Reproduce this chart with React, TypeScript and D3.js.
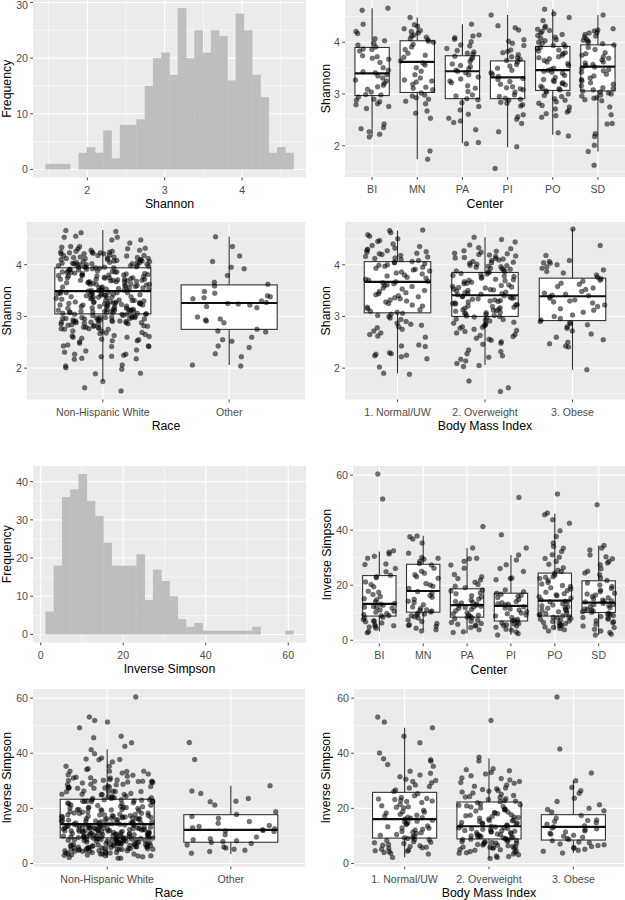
import React from "react";
import * as d3 from "d3";

// ---------------- DATA ----------------
// Histogram: Shannon
const shannonBinMin = 1.458;
const shannonBinWidth = 0.1069;
const shannonCounts = [1, 1, 1, 0, 3, 4, 3, 7, 2, 8, 8, 9, 15, 20, 21, 17, 29, 20, 25, 21, 25, 24, 16, 28, 25, 17, 13, 3, 4, 3];
// Histogram: Inverse Simpson
const invBinMin = 1.14;
const invBinWidth = 2.005;
const invCounts = [6, 18, 36, 38, 42, 35, 31, 24, 18, 18, 18, 21, 9, 17, 14, 10, 4, 2, 3, 1, 1, 1, 1, 1, 1, 2, 0, 0, 0, 1];

const centers = ["BI", "MN", "PA", "PI", "PO", "SD"];
const races = ["Non-Hispanic White", "Other"];
const bmiGroups = ["1. Normal/UW", "2. Overweight", "3. Obese"];

// Shannon by center (jittered points)
const shannonBI = [4.66,4.62,4.35,4.21,4.17,4.07,4.03,3.98,3.95,3.91,3.87,3.86,3.83,3.74,3.72,3.69,3.67,3.61,3.51,3.46,3.43,3.41,3.37,3.35,3.31,3.27,3.25,3.21,3.17,3.14,3.09,3.04,2.99,2.98,2.94,2.90,2.88,2.85,2.81,2.79,2.76,2.72,2.42,2.35,2.33,2.27,2.22,2.17];
const shannonMN = [4.48,4.34,4.31,4.26,4.23,4.21,4.18,4.14,4.12,4.10,4.07,4.05,4.02,4.00,3.96,3.91,3.86,3.79,3.75,3.71,3.64,3.60,3.56,3.51,3.44,3.37,3.31,3.27,3.25,3.23,3.19,3.13,3.11,3.08,3.02,2.98,2.96,2.93,2.90,2.86,2.81,2.67,2.63,2.53,1.90,1.74];
const shannonPA = [4.35,4.14,4.12,4.09,4.06,4.01,3.95,3.93,3.88,3.84,3.81,3.79,3.77,3.73,3.70,3.67,3.63,3.58,3.55,3.53,3.49,3.46,3.44,3.41,3.37,3.33,3.29,3.25,3.22,3.16,3.11,3.05,2.98,2.96,2.91,2.89,2.83,2.76,2.69,2.61,2.53,2.48,2.45,2.31,2.06,2.04];
const shannonPI = [4.53,4.32,4.28,4.24,4.05,4.02,3.98,3.94,3.85,3.82,3.80,3.76,3.72,3.70,3.67,3.65,3.62,3.57,3.54,3.50,3.46,3.41,3.38,3.34,3.30,3.28,3.24,3.19,3.14,3.12,3.10,3.08,3.04,2.98,2.95,2.92,2.90,2.88,2.84,2.82,2.79,2.77,2.60,2.56,2.51,2.43,2.27,1.98,1.56];
const shannonPO = [4.64,4.55,4.48,4.42,4.31,4.28,4.25,4.23,4.21,4.18,4.15,4.13,4.10,4.08,4.05,4.03,4.00,3.98,3.96,3.94,3.92,3.90,3.88,3.85,3.83,3.80,3.78,3.75,3.72,3.70,3.68,3.65,3.62,3.59,3.55,3.50,3.48,3.46,3.44,3.42,3.40,3.36,3.32,3.28,3.26,3.24,3.22,3.20,3.18,3.15,3.12,3.10,3.08,3.06,3.04,3.00,2.97,2.95,2.91,2.88,2.85,2.82,2.78,2.75,2.71,2.68,2.65,2.62,2.58,2.55,2.25,2.19];
const shannonSD = [4.53,4.26,4.24,4.22,4.19,4.18,4.15,4.12,4.10,4.06,4.04,4.02,4.00,3.97,3.95,3.90,3.86,3.80,3.78,3.75,3.72,3.69,3.66,3.62,3.60,3.57,3.55,3.52,3.50,3.47,3.45,3.42,3.38,3.35,3.31,3.28,3.25,3.22,3.19,3.16,3.12,3.10,3.08,3.06,3.04,3.02,3.00,2.98,2.96,2.93,2.92,2.89,2.87,2.75,2.60,2.43,2.42,2.23,2.18,2.01,1.89,1.62];

// Shannon by race
const shannonOther = [4.54,4.35,4.17,4.06,3.95,3.92,3.79,3.66,3.62,3.59,3.48,3.45,3.40,3.38,3.36,3.34,3.30,3.27,3.25,3.24,3.22,3.19,3.17,2.99,2.95,2.93,2.91,2.88,2.75,2.72,2.70,2.60,2.55,2.52,2.43,2.40,2.28,2.22,2.06,2.04];

// Shannon by BMI
const shannonNormal = [4.67,4.66,4.62,4.58,4.55,4.50,4.47,4.45,4.40,4.37,4.35,4.32,4.30,4.28,4.27,4.25,4.24,4.22,4.21,4.20,4.18,4.16,4.15,4.13,4.12,4.10,4.08,4.06,4.05,4.04,4.02,4.00,3.99,3.97,3.95,3.93,3.91,3.90,3.88,3.86,3.84,3.82,3.80,3.78,3.76,3.74,3.72,3.70,3.68,3.67,3.65,3.63,3.61,3.60,3.58,3.55,3.53,3.50,3.48,3.46,3.44,3.42,3.40,3.38,3.36,3.34,3.32,3.30,3.28,3.25,3.22,3.20,3.18,3.15,3.13,3.10,3.08,3.06,3.04,3.02,3.00,2.97,2.94,2.90,2.87,2.85,2.83,2.80,2.78,2.75,2.72,2.68,2.65,2.62,2.60,2.45,2.43,2.42,2.30,2.28,2.27,2.25,2.24,2.22,2.18,2.02,1.90,1.88];
const shannonOverweight = [4.53,4.49,4.44,4.38,4.33,4.31,4.27,4.26,4.24,4.22,4.21,4.19,4.17,4.16,4.14,4.13,4.11,4.09,4.08,4.06,4.04,4.03,4.01,3.99,3.98,3.96,3.95,3.93,3.91,3.90,3.88,3.86,3.85,3.83,3.81,3.79,3.78,3.76,3.74,3.72,3.71,3.69,3.67,3.66,3.63,3.61,3.60,3.58,3.56,3.55,3.53,3.52,3.50,3.49,3.47,3.46,3.44,3.43,3.42,3.40,3.39,3.37,3.36,3.35,3.33,3.32,3.31,3.29,3.28,3.26,3.25,3.23,3.22,3.20,3.19,3.17,3.16,3.14,3.13,3.11,3.10,3.08,3.07,3.05,3.04,3.02,3.01,2.99,2.97,2.95,2.93,2.91,2.89,2.86,2.84,2.82,2.79,2.77,2.75,2.73,2.71,2.68,2.65,2.63,2.61,2.58,2.56,2.54,2.51,2.48,2.46,2.35,2.32,2.28,2.24,2.21,2.17,2.14,2.09,2.05,2.03,1.75,1.62,1.55,4.20,4.12,4.05,3.97,3.92,3.87,3.82,3.77,3.70,3.64,3.57,3.51,3.45,3.38,3.34,3.30,3.24,3.18,3.12,3.06,3.00,2.94,2.87,2.80];
const shannonObese = [4.69,4.37,4.18,4.08,4.06,4.04,4.03,4.00,3.96,3.93,3.90,3.87,3.84,3.80,3.76,3.73,3.70,3.68,3.64,3.62,3.58,3.55,3.52,3.48,3.45,3.43,3.41,3.40,3.38,3.35,3.32,3.30,3.28,3.26,3.22,3.19,3.15,3.12,3.08,3.03,3.00,2.96,2.93,2.90,2.88,2.86,2.84,2.80,2.77,2.72,2.66,2.60,2.55,2.50,2.47,2.43,2.41,1.97];

// Inverse Simpson by center
const invBI = [60.4,51.3,32.5,32.0,31.3,30.5,29.8,27.7,27.5,26.1,24.9,23.6,23.1,22.7,21.2,20.3,19.4,17.8,17.4,16.6,15.9,15.1,14.7,14.0,13.4,13.1,12.7,12.3,11.9,11.7,11.0,10.5,10.2,9.7,9.4,8.9,8.4,8.1,7.5,7.1,6.7,6.3,5.6,5.3,4.8,4.4,3.2,2.7,12.0,9.0,6.9,5.1];
const invMN = [37.9,37.6,36.8,35.3,31.6,30.1,29.8,29.4,28.7,27.9,27.3,26.2,25.1,24.3,23.8,23.1,22.5,20.6,20.1,19.6,18.8,17.7,17.1,16.3,15.6,14.9,14.2,13.7,12.9,12.1,11.5,11.1,10.6,10.3,9.8,9.2,8.9,8.5,8.1,7.4,6.8,6.1,5.6,5.1,4.4,3.8,3.4,10.9,9.5,5.4];
const invPA = [41.3,33.5,29.8,29.6,28.7,27.3,26.2,23.9,23.1,22.4,21.9,21.1,20.3,19.6,19.1,18.3,17.9,17.3,16.9,16.2,15.7,15.0,14.6,14.1,13.5,13.2,12.8,12.4,12.1,11.6,11.2,10.7,10.0,9.6,9.1,8.7,8.2,7.8,7.3,6.9,6.1,5.8,5.2,4.6,3.8,3.1,2.8,13.8,12.6,11.9,9.3,8.4,6.5,5.5];
const invPI = [51.9,38.3,33.5,31.0,29.2,27.4,26.1,25.0,22.6,22.4,22.0,18.3,17.6,17.1,16.7,16.0,15.5,14.8,14.1,13.6,13.1,12.8,12.2,11.7,11.0,10.4,9.9,9.2,8.8,8.3,7.6,7.1,6.8,6.3,5.9,5.6,5.2,4.7,4.0,3.6,3.0,2.4,1.9,16.3,13.3,11.4,9.6,7.3,6.1,5.4];
const invPO = [53.1,46.2,45.6,43.8,42.5,39.8,37.7,35.3,34.1,33.4,32.2,31.1,30.2,29.7,28.6,27.6,26.3,25.4,25.0,24.3,23.6,23.1,22.4,21.7,21.0,20.4,19.9,19.1,18.6,18.1,17.4,16.9,16.2,15.8,15.3,14.7,14.2,13.9,13.3,12.8,12.5,12.0,11.6,11.2,10.9,10.4,10.0,9.7,9.2,8.9,8.4,8.1,7.6,7.3,6.8,6.5,6.1,5.6,5.2,4.8,4.3,3.8,3.4,22.9,19.5,16.5,14.0,12.2,10.7,9.4,8.6,7.9,7.0,6.3,5.4,4.6];
const invSD = [49.2,34.4,33.5,32.8,31.0,30.3,29.6,28.6,28.1,27.4,26.0,25.1,24.4,23.8,22.6,21.7,20.8,20.1,19.5,18.8,18.2,17.6,17.1,16.4,15.9,15.4,15.0,14.6,14.2,13.9,13.4,13.0,12.6,12.3,11.8,11.4,11.0,10.6,10.2,9.8,9.5,9.0,8.6,8.1,7.6,7.1,6.4,5.8,5.2,4.6,4.0,3.4,2.8,2.2,1.9,16.8,14.4,12.9,11.2,10.4,9.2,8.3,6.7];

// Inverse Simpson by race
const invOther = [43.9,37.7,28.2,26.3,25.4,23.6,22.6,22.4,21.2,18.8,17.8,17.0,16.4,15.2,14.6,13.8,13.4,13.0,12.6,12.2,12.0,11.8,11.6,10.4,9.6,9.0,8.6,8.2,8.0,7.6,7.2,6.7,6.0,5.6,5.2,4.8,4.3,3.7];

// Inverse Simpson by BMI
const invNormal = [53.1,51.3,49.2,46.2,43.8,40.1,38.0,37.6,37.1,35.9,35.3,33.5,32.7,32.1,31.5,30.6,30.1,29.7,29.3,28.5,27.9,27.4,26.7,26.1,25.3,24.6,23.9,23.6,23.2,22.9,22.5,22.1,21.4,20.9,20.4,20.1,19.3,18.8,18.3,17.9,17.5,17.2,16.8,16.4,16.1,15.7,15.3,14.8,14.4,14.1,13.6,13.3,12.8,12.4,12.1,11.6,11.3,10.9,10.5,10.2,9.9,9.5,9.1,8.8,8.6,8.3,7.9,7.5,7.2,6.9,6.6,6.2,5.9,5.5,5.2,4.9,4.6,4.3,4.0,3.7,3.4,2.2,23.4,22.7,20.6,18.6,16.6,15.1,12.9,11.1,9.3,7.7,6.4,5.7,4.4];
const invOverweight = [51.9,38.5,37.2,34.4,34.0,33.6,33.0,32.5,31.8,31.0,30.3,29.7,29.1,28.5,28.0,27.4,26.8,26.2,25.6,25.1,24.7,24.3,23.9,23.5,23.2,22.8,22.4,22.0,21.6,21.3,20.9,20.5,20.1,19.8,19.4,19.0,18.7,18.3,18.0,17.7,17.3,17.0,16.7,16.4,16.1,15.8,15.5,15.2,14.9,14.6,14.3,14.0,13.8,13.5,13.2,13.0,12.7,12.4,12.2,11.9,11.7,11.4,11.2,10.9,10.7,10.4,10.2,9.9,9.7,9.5,9.2,9.0,8.8,8.5,8.3,8.1,7.8,7.6,7.4,7.1,6.9,6.7,6.4,6.2,5.9,5.7,5.4,5.1,4.8,4.5,4.1,3.7,3.2,2.7,2.2,1.8,27.1,25.9,24.1,22.6,21.1,19.6,18.5,17.5,16.9,15.6,14.7,13.6,12.9,12.0,11.1,10.5,9.8,9.3,8.7,8.0,7.3,6.6,6.0,5.5,5.0,4.3,3.4,2.5,26.5,20.7,14.4,10.0,8.9,7.7,6.1,3.9,29.4,30.8,12.6,11.5];
const invObese = [60.4,41.5,32.8,30.0,27.6,26.4,25.5,23.7,22.5,21.3,20.0,19.6,19.1,18.7,17.4,16.5,15.8,15.6,15.2,14.8,14.2,13.7,13.3,12.9,12.6,12.2,11.8,11.4,11.0,10.6,10.2,9.9,9.5,9.1,8.7,8.2,7.8,7.5,7.1,6.8,6.5,6.2,5.8,5.5,5.2,4.8,4.4,3.8];

// Box statistics (lower whisker, Q1, median, Q3, upper whisker)
const shannonCenterLow = [2.18, 1.74, 2.05, 1.97, 2.21, 1.89];
const shannonCenterQ1 = [2.97, 3.03, 2.91, 2.91, 3.07, 3.06];
const shannonCenterMed = [3.40, 3.62, 3.44, 3.32, 3.46, 3.53];
const shannonCenterQ3 = [3.90, 4.03, 3.74, 3.64, 3.92, 3.95];
const shannonCenterHigh = [4.66, 4.48, 4.35, 4.53, 4.64, 4.53];

const shannonRaceLow = [1.75, 2.06];
const shannonRaceQ1 = [3.05, 2.75];
const shannonRaceMed = [3.49, 3.26];
const shannonRaceQ3 = [3.94, 3.61];
const shannonRaceHigh = [4.67, 4.54];

const shannonBmiLow = [1.90, 2.06, 1.97];
const shannonBmiQ1 = [3.07, 3.00, 2.92];
const shannonBmiMed = [3.67, 3.41, 3.39];
const shannonBmiQ3 = [4.06, 3.85, 3.74];
const shannonBmiHigh = [4.66, 4.53, 4.69];

const invCenterLow = [3.2, 3.8, 2.5, 1.9, 3.8, 1.9];
const invCenterQ1 = [8.8, 10.2, 8.4, 7.0, 8.8, 10.1];
const invCenterMed = [13.2, 17.9, 12.8, 12.5, 14.4, 13.7];
const invCenterQ3 = [23.5, 27.6, 18.7, 17.1, 24.4, 21.6];
const invCenterHigh = [32.2, 38.0, 33.5, 31.0, 46.0, 34.4];

const invRaceLow = [2.2, 3.4];
const invRaceQ1 = [9.3, 7.7];
const invRaceMed = [14.3, 12.2];
const invRaceQ3 = [23.3, 17.7];
const invRaceHigh = [41.4, 28.2];

const invBmiLow = [2.2, 1.8, 3.8];
const invBmiQ1 = [9.2, 8.9, 8.5];
const invBmiMed = [16.1, 13.5, 13.3];
const invBmiQ3 = [25.8, 22.3, 17.7];
const invBmiHigh = [49.2, 38.1, 30.1];

// Axis ticks
const shannonTicks = [2, 3, 4];
const shannonMinor = [1.5, 2.5, 3.5, 4.5];
const invTicks = [0, 20, 40, 60];
const invMinor = [10, 30, 50];
const histShannonYTicks = [0, 10, 20, 30];
const histShannonYMinor = [5, 15, 25];
const histInvYTicks = [0, 10, 20, 30, 40];
const histInvYMinor = [5, 15, 25, 35];

// ---------------- DRAWING ----------------
const FONT = "'Liberation Sans', Arial, Helvetica, sans-serif";
const BG = "#EBEBEB";
const TICK_TXT = "#4D4D4D";
const TICK_LINE = "#333333";
const TICK_FS = 10.6;
const TITLE_FS = 12.3;

// deterministic jitter offset in [0, 1) (stand-in for geom_jitter's spread)
function jitterUnit(i: number, j: number) {
  const s = Math.sin((i + 1) * 12.9898 + (j + 1) * 78.233) * 43758.5453;
  return s - Math.floor(s);
}

function YAxis({ g, ys, ticks, minor, title, titleX }: any) {
  return (
    <g>
      {minor.map((t: number) => (
        <line key={"ym" + t} x1={g.left} x2={g.right} y1={ys(t)} y2={ys(t)} stroke="#fff" strokeWidth={0.55} />
      ))}
      {ticks.map((t: number) => (
        <line key={"yM" + t} x1={g.left} x2={g.right} y1={ys(t)} y2={ys(t)} stroke="#fff" strokeWidth={1.1} />
      ))}
      {ticks.map((t: number) => (
        <g key={"yt" + t}>
          <line x1={g.left - 2.8} x2={g.left} y1={ys(t)} y2={ys(t)} stroke={TICK_LINE} strokeWidth={0.9} />
          <text x={g.left - 5} y={Math.max(ys(t), 5)} textAnchor="end" dominantBaseline="central" fontSize={TICK_FS} fill={TICK_TXT} fontFamily={FONT}>
            {t}
          </text>
        </g>
      ))}
      <text
        transform={`translate(${titleX},${(g.top + g.bottom) / 2}) rotate(-90)`}
        textAnchor="middle"
        dominantBaseline="central"
        fontSize={TITLE_FS}
        fill="#000"
        fontFamily={FONT}
      >
        {title}
      </text>
    </g>
  );
}

function HistPanel({ g, xDomain, yDomain, xTicks, xMinor, yTicks, yMinor, binMin, binWidth, counts, xTitle, yTitle, yTitleX }: any) {
  const xs = d3.scaleLinear().domain(xDomain).range([g.left, g.right]);
  const ys = d3.scaleLinear().domain(yDomain).range([g.bottom, g.top]);
  return (
    <g>
      <rect x={g.left} y={g.top} width={g.right - g.left} height={g.bottom - g.top} fill={BG} />
      {xMinor.map((t: number) => (
        <line key={"xm" + t} x1={xs(t)} x2={xs(t)} y1={g.top} y2={g.bottom} stroke="#fff" strokeWidth={0.55} />
      ))}
      {xTicks.map((t: number) => (
        <line key={"xM" + t} x1={xs(t)} x2={xs(t)} y1={g.top} y2={g.bottom} stroke="#fff" strokeWidth={1.1} />
      ))}
      <YAxis g={g} ys={ys} ticks={yTicks} minor={yMinor} title={yTitle} titleX={yTitleX} />
      {counts.map((c: number, i: number) => {
        const x0 = xs(binMin + i * binWidth);
        const x1 = xs(binMin + (i + 1) * binWidth);
        return <rect key={i} x={x0} width={x1 - x0 + 0.3} y={ys(c)} height={ys(0) - ys(c)} fill="#BEBEBE" />;
      })}
      {xTicks.map((t: number) => (
        <g key={"xt" + t}>
          <line x1={xs(t)} x2={xs(t)} y1={g.bottom} y2={g.bottom + 2.8} stroke={TICK_LINE} strokeWidth={0.9} />
          <text x={xs(t)} y={g.bottom + 12} textAnchor="middle" dominantBaseline="central" fontSize={TICK_FS} fill={TICK_TXT} fontFamily={FONT}>
            {t}
          </text>
        </g>
      ))}
      <text x={(g.left + g.right) / 2} y={g.bottom + 26.5} textAnchor="middle" dominantBaseline="central" fontSize={TITLE_FS} fill="#000" fontFamily={FONT}>
        {xTitle}
      </text>
    </g>
  );
}

function BoxPanel({ g, cats, yDomain, yTicks, yMinor, low, q1, med, q3, high, groups, xTitle, yTitle, yTitleX, seed }: any) {
  const n = cats.length;
  const xs = d3.scaleLinear().domain([0.4, n + 0.6]).range([g.left, g.right]);
  const ys = d3.scaleLinear().domain(yDomain).range([g.bottom, g.top]);
  const unit = xs(2) - xs(1);
  const boxHalf = 0.38 * unit;
  const jit = 0.37 * unit;
  return (
    <g>
      <rect x={g.left} y={g.top} width={g.right - g.left} height={g.bottom - g.top} fill={BG} />
      {cats.map((c: string, i: number) => (
        <line key={"xM" + c} x1={xs(i + 1)} x2={xs(i + 1)} y1={g.top} y2={g.bottom} stroke="#fff" strokeWidth={1.1} />
      ))}
      <YAxis g={g} ys={ys} ticks={yTicks} minor={yMinor} title={yTitle} titleX={yTitleX} />
      {cats.map((c: string, i: number) => {
        const cx = xs(i + 1);
        return (
          <g key={"box" + c}>
            <line x1={cx} x2={cx} y1={ys(high[i])} y2={ys(q3[i])} stroke="#333" strokeWidth={1.1} />
            <line x1={cx} x2={cx} y1={ys(q1[i])} y2={ys(low[i])} stroke="#333" strokeWidth={1.1} />
            <rect x={cx - boxHalf} y={ys(q3[i])} width={2 * boxHalf} height={ys(q1[i]) - ys(q3[i])} fill="#fff" stroke="#333" strokeWidth={1.1} />
            <line x1={cx - boxHalf} x2={cx + boxHalf} y1={ys(med[i])} y2={ys(med[i])} stroke="#111" strokeWidth={2.2} />
          </g>
        );
      })}
      {groups.map((vals: number[], j: number) => {
        const cx = xs(j + 1);
        return (
          <g key={"pts" + j}>
            {vals.map((v: number, i: number) => (
              <circle
                key={i}
                cx={cx + (jitterUnit(i, j + seed * 7) - 0.5) * 2 * jit}
                cy={ys(v)}
                r={2.5}
                fill="#000"
                fillOpacity={0.55}
                stroke="#000"
                strokeOpacity={0.3}
                strokeWidth={0.5}
              />
            ))}
          </g>
        );
      })}
      {cats.map((c: string, i: number) => (
        <g key={"xt" + c}>
          <line x1={xs(i + 1)} x2={xs(i + 1)} y1={g.bottom} y2={g.bottom + 2.8} stroke={TICK_LINE} strokeWidth={0.9} />
          <text x={xs(i + 1)} y={g.bottom + 12} textAnchor="middle" dominantBaseline="central" fontSize={TICK_FS} fill={TICK_TXT} fontFamily={FONT}>
            {c}
          </text>
        </g>
      ))}
      <text x={(g.left + g.right) / 2} y={g.bottom + 26.5} textAnchor="middle" dominantBaseline="central" fontSize={TITLE_FS} fill="#000" fontFamily={FONT}>
        {xTitle}
      </text>
    </g>
  );
}

export default function App() {
  const shannonWhite = [...shannonBI, ...shannonMN, ...shannonPA, ...shannonPI, ...shannonPO, ...shannonSD];
  const invWhite = [...invBI, ...invMN, ...invPA, ...invPI, ...invPO, ...invSD];
  const shY = [1.394, 4.826];
  const invY = [-1.1, 63.3];
  return (
    <svg width={625} height={900} style={{ position: "absolute", left: 0, top: 0, background: "#fff" }}>
      <rect width={625} height={900} fill="#fff" />
      <HistPanel
        g={{ left: 33, top: 0, right: 306, bottom: 177.5 }}
        xDomain={[1.298, 4.826]}
        yDomain={[-1.45, 30.45]}
        xTicks={shannonTicks}
        xMinor={shannonMinor}
        yTicks={histShannonYTicks}
        yMinor={histShannonYMinor}
        binMin={shannonBinMin}
        binWidth={shannonBinWidth}
        counts={shannonCounts}
        xTitle="Shannon"
        yTitle="Frequency"
        yTitleX={7}
      />
      <BoxPanel
        g={{ left: 345, top: 0, right: 625, bottom: 177 }}
        cats={centers}
        yDomain={[1.395, 4.818]}
        yTicks={shannonTicks}
        yMinor={shannonMinor}
        low={shannonCenterLow}
        q1={shannonCenterQ1}
        med={shannonCenterMed}
        q3={shannonCenterQ3}
        high={shannonCenterHigh}
        groups={[shannonBI, shannonMN, shannonPA, shannonPI, shannonPO, shannonSD]}
        xTitle="Center"
        yTitle="Shannon"
        yTitleX={325.5}
        seed={1}
      />
      <BoxPanel
        g={{ left: 27, top: 222, right: 305, bottom: 399.5 }}
        cats={races}
        yDomain={shY}
        yTicks={shannonTicks}
        yMinor={shannonMinor}
        low={shannonRaceLow}
        q1={shannonRaceQ1}
        med={shannonRaceMed}
        q3={shannonRaceQ3}
        high={shannonRaceHigh}
        groups={[shannonWhite, shannonOther]}
        xTitle="Race"
        yTitle="Shannon"
        yTitleX={6.5}
        seed={2}
      />
      <BoxPanel
        g={{ left: 345, top: 222, right: 625, bottom: 399.5 }}
        cats={bmiGroups}
        yDomain={shY}
        yTicks={shannonTicks}
        yMinor={shannonMinor}
        low={shannonBmiLow}
        q1={shannonBmiQ1}
        med={shannonBmiMed}
        q3={shannonBmiQ3}
        high={shannonBmiHigh}
        groups={[shannonNormal, shannonOverweight, shannonObese]}
        xTitle="Body Mass Index"
        yTitle="Shannon"
        yTitleX={325.5}
        seed={3}
      />
      <HistPanel
        g={{ left: 33, top: 466, right: 306, bottom: 642.5 }}
        xDomain={[-1.87, 64.3]}
        yDomain={[-2.1, 44.1]}
        xTicks={invTicks}
        xMinor={invMinor}
        yTicks={histInvYTicks}
        yMinor={histInvYMinor}
        binMin={invBinMin}
        binWidth={invBinWidth}
        counts={invCounts}
        xTitle="Inverse Simpson"
        yTitle="Frequency"
        yTitleX={7}
      />
      <BoxPanel
        g={{ left: 353, top: 466, right: 625, bottom: 643.3 }}
        cats={centers}
        yDomain={invY}
        yTicks={invTicks}
        yMinor={invMinor}
        low={invCenterLow}
        q1={invCenterQ1}
        med={invCenterMed}
        q3={invCenterQ3}
        high={invCenterHigh}
        groups={[invBI, invMN, invPA, invPI, invPO, invSD]}
        xTitle="Center"
        yTitle="Inverse Simpson"
        yTitleX={326.5}
        seed={4}
      />
      <BoxPanel
        g={{ left: 33, top: 689, right: 305, bottom: 866.5 }}
        cats={races}
        yDomain={invY}
        yTicks={invTicks}
        yMinor={invMinor}
        low={invRaceLow}
        q1={invRaceQ1}
        med={invRaceMed}
        q3={invRaceQ3}
        high={invRaceHigh}
        groups={[invWhite, invOther]}
        xTitle="Race"
        yTitle="Inverse Simpson"
        yTitleX={6.5}
        seed={5}
      />
      <BoxPanel
        g={{ left: 354, top: 689, right: 624, bottom: 866.5 }}
        cats={bmiGroups}
        yDomain={invY}
        yTicks={invTicks}
        yMinor={invMinor}
        low={invBmiLow}
        q1={invBmiQ1}
        med={invBmiMed}
        q3={invBmiQ3}
        high={invBmiHigh}
        groups={[invNormal, invOverweight, invObese]}
        xTitle="Body Mass Index"
        yTitle="Inverse Simpson"
        yTitleX={326}
        seed={6}
      />
    </svg>
  );
}
